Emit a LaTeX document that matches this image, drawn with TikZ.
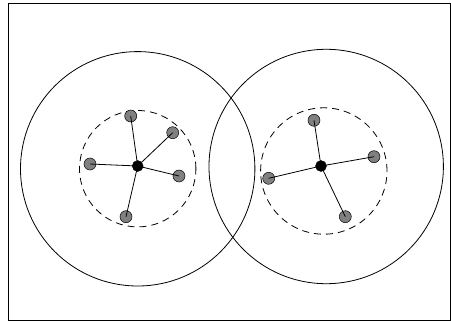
\documentclass[tikz,border=0pt]{standalone}
\usepackage{tikz}
\usetikzlibrary{positioning}
\tikzset{
  hub/.style={circle,draw=black,fill=black,minimum size=11pt,inner sep=0pt},
  leaf/.style={circle,draw=black,fill=black!50,line width=0.5pt,minimum size=12pt,inner sep=0pt},
  link/.style={draw=black,line width=0.8pt},
  reach/.style={draw=black,line width=0.8pt},
  near/.style={draw=black,line width=0.8pt,dash pattern=on 7pt off 5pt},
}
\begin{document}
\begin{tikzpicture}[x=1pt,y=-1pt]
\useasboundingbox (0,0) rectangle (451,324);
\draw[line width=0.9pt] (8,3.5) rectangle (450,320.5);
% left cluster
\node[hub] (hA) at (137.7,166) {};
\draw[reach] (137.7,168.8) circle (117.2pt);
\draw[near] (137.7,168.7) circle (58.2pt);
\node[leaf] (a1) at (130.7,116) {};
\node[leaf] (a2) at (172.7,132.7) {};
\node[leaf] (a3) at (90,164) {};
\node[leaf] (a4) at (179,176) {};
\node[leaf] (a5) at (126,216.7) {};
\foreach \v in {a1,a2,a3,a4,a5} \draw[link] (hA.center)--(\v.center);
% right cluster
\node[hub] (hB) at (321,166) {};
\draw[reach] (326.2,166.5) circle (117.2pt);
\draw[near] (323.8,171) circle (63.2pt);
\node[leaf] (b1) at (314,120.3) {};
\node[leaf] (b2) at (374,156.7) {};
\node[leaf] (b3) at (268.7,178.3) {};
\node[leaf] (b4) at (345.3,216.7) {};
\foreach \v in {b1,b2,b3,b4} \draw[link] (hB.center)--(\v.center);
\end{tikzpicture}
\end{document}
